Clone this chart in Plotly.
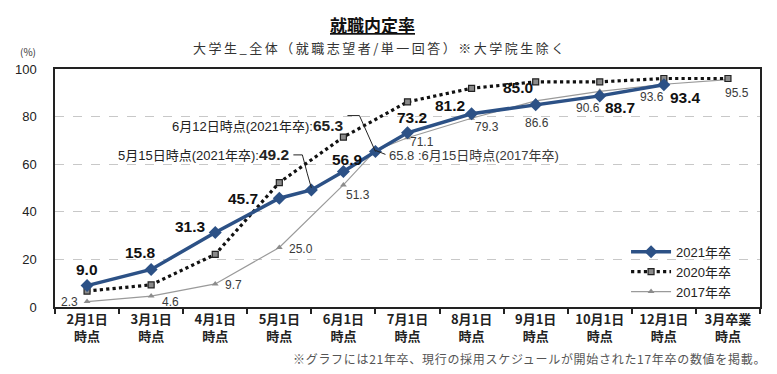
import plotly.graph_objects as go

# ---------------- data ----------------
categories = ["2月1日<br>時点", "3月1日<br>時点", "4月1日<br>時点", "5月1日<br>時点",
              "6月1日<br>時点", "7月1日<br>時点", "8月1日<br>時点", "9月1日<br>時点",
              "10月1日<br>時点", "12月1日<br>時点", "3月卒業<br>時点"]
cat_pos = list(range(len(categories)))

# survey timing expressed as position on the month axis (5/15, 6/12, 6/15 are mid-month)
pos_2021 = [0, 1, 2, 3, 3.5, 4, 4.5, 5, 6, 7, 8, 9]
val_2021 = [9.0, 15.8, 31.3, 45.7, 49.2, 56.9, 65.3, 73.2, 81.2, 85.0, 88.7, 93.4]

pos_2020 = [0, 1, 2, 3, 4, 5, 6, 7, 8, 9, 10]
val_2020 = [6.7, 9.3, 22.1, 52.3, 71.4, 86.2, 91.9, 94.6, 94.6, 96.0, 96.0]

pos_2017 = [0, 1, 2, 3, 4, 4.5, 5, 6, 7, 8, 9, 10]
val_2017 = [2.3, 4.6, 9.7, 25.0, 51.3, 65.8, 71.1, 79.3, 86.6, 90.6, 93.6, 95.5]

yticks = [0, 20, 40, 60, 80, 100]

# ---------------- styles ----------------
BLUE = "#2C5186"
JP = "Noto Sans CJK JP"
NUM = "Liberation Sans, Arial, " + JP

fig = go.Figure()
fig.add_trace(go.Scatter(x=pos_2017, y=val_2017, name="2017年卒", mode="lines+markers",
                         line=dict(color="#9A9A9A", width=1.2),
                         marker=dict(symbol="triangle-up", size=6, color="#8C8C8C")))
fig.add_trace(go.Scatter(x=pos_2020, y=val_2020, name="2020年卒", mode="lines+markers",
                         line=dict(color="#111111", width=3.2, dash="dot"),
                         marker=dict(symbol="square", size=6, color="#8A8A8A",
                                     line=dict(color="#222222", width=1.2))))
fig.add_trace(go.Scatter(x=pos_2021, y=val_2021, name="2021年卒", mode="lines+markers",
                         line=dict(color=BLUE, width=3.5),
                         marker=dict(symbol="diamond", size=10, color=BLUE)))

annotations = []

def lab(x, y, text, dx, dy, bold):
    annotations.append(dict(
        x=x, y=y, xref="x", yref="y", text=("<b>%s</b>" % text) if bold else text,
        showarrow=False, xshift=dx, yshift=-dy,
        font=dict(family=NUM, size=15.5 if bold else 12,
                  color="#111111" if bold else "#3A3A3A")))

# 2021 labels (pixel offsets from point)
off_2021 = {0: (0, -16), 1: (-11, -17), 2: (-25, -6), 3: (-36, 0), 5: (4, -12),
            7: (4, -15), 8: (-22, -8), 9: (-18, -17), 10: (20, 12), 11: (22, 13)}
for i, (dx, dy) in off_2021.items():
    lab(pos_2021[i], val_2021[i], "%.1f" % val_2021[i], dx, dy, True)

off_2017 = {0: (-18, 0), 1: (19, 6), 2: (18, 1), 3: (22, 1), 4: (15, 10),
            6: (14, 4), 7: (15, 9), 8: (1, 22), 9: (-12, 17), 10: (-12, 13), 11: (9, 13)}
for i, (dx, dy) in off_2017.items():
    lab(pos_2017[i], val_2017[i], "%.1f" % val_2017[i], dx, dy, False)

# call-out labels with leader lines
def callout(x, y, pre, num, dx, dy):
    t = pre + "<b><span style='font-size:15.5px'>%s</span></b>" % num
    annotations.append(dict(x=x, y=y, xref="x", yref="y", text=t, showarrow=False,
                            xanchor="right", xshift=dx, yshift=-dy,
                            font=dict(family=NUM, size=13, color="#222222")))

callout(pos_2021[4], val_2021[4], "5月15日時点(2021年卒):", "%.1f" % val_2021[4], -20, -35)
callout(pos_2021[6], val_2021[6], "6月12日時点(2021年卒):", "%.1f" % val_2021[6], -30, -26)
annotations.append(dict(x=pos_2017[5], y=val_2017[5], xref="x", yref="y",
                        text="%.1f :6月15日時点(2017年卒)" % val_2017[5], showarrow=False,
                        xanchor="left", xshift=12, yshift=-5,
                        font=dict(family=NUM, size=13, color="#3A3A3A")))

shapes = []
def leader(xa, ya, path):
    shapes.append(dict(type="path", xref="x", yref="y", xsizemode="pixel", ysizemode="pixel",
                       xanchor=xa, yanchor=ya, path=path, line=dict(color="#222222", width=1)))

leader(pos_2021[4], val_2021[4], "M -18 35 L -9 35 L -4 16 L 0 2")
leader(pos_2021[6], val_2021[6], "M -28 36 L -16 36 L 0 0")
leader(pos_2017[5], val_2017[5], "M 0 0 L 10 -4")

# title / subtitle / footnote
annotations += [
    dict(x=0.4, y=1.0, xref="paper", yref="paper", yanchor="bottom", yshift=30, xshift=35,
         text="<b><u>就職内定率</u></b>", showarrow=False,
         font=dict(family=JP, size=17, color="#111111")),
    dict(x=0.4, y=1.0, xref="paper", yref="paper", yanchor="bottom", yshift=10, xshift=43,
         text="<span style='letter-spacing:2.5px'>大学生_全体（就職志望者/単一回答）※大学院生除く</span>",
         showarrow=False, font=dict(family=JP, size=13, color="#333333")),
    dict(x=0, y=1.0, xref="paper", yref="paper", yanchor="bottom", xanchor="center",
         xshift=-27, yshift=8, text="(%)", showarrow=False,
         font=dict(family=JP, size=10, color="#333333")),
    dict(x=1.0, y=0, xref="paper", yref="paper", xanchor="right", yanchor="top",
         xshift=8, yshift=-41, showarrow=False,
         text="<span style='letter-spacing:0.7px'>※グラフには21年卒、現行の採用スケジュールが開始された17年卒の数値を掲載。</span>",
         font=dict(family=JP, size=12, color="#555555")),
]

fig.update_layout(
    width=777, height=374,
    margin=dict(l=55, r=17, t=69, b=67),
    paper_bgcolor="white", plot_bgcolor="white",
    showlegend=True,
    legend=dict(x=0.81, y=0.295, xanchor="left", yanchor="top", traceorder="reversed",
                bgcolor="rgba(0,0,0,0)", font=dict(family=NUM, size=13, color="#222222"),
                itemwidth=40, tracegroupgap=0),
    annotations=annotations, shapes=shapes,
    font=dict(family=JP),
)
fig.update_xaxes(range=[-0.5, 10.5], tickvals=cat_pos, ticktext=categories, ticks="",
                 showgrid=False, showline=True, linecolor="#222222", linewidth=1.5,
                 mirror=True, zeroline=False,
                 tickfont=dict(family=JP, size=13, color="#222222", weight=700),
                 minor=dict(ticks="outside", tick0=0.5, dtick=1, ticklen=5,
                            tickcolor="#222222", tickwidth=1.5, showgrid=False))
fig.update_yaxes(range=[0, 100], tickvals=yticks, ticks="", showline=True,
                 linecolor="#222222", linewidth=1.5, mirror=True, zeroline=False,
                 showgrid=True, gridcolor="#C8C8C8", griddash="dash", gridwidth=1,
                 tickfont=dict(family="Liberation Sans, Arial", size=13, color="#222222"),
                 ticklabelstandoff=14)

fig.write_html("out.html", config={"displayModeBar": False},
               post_script="document.body.style.margin='0px';")
